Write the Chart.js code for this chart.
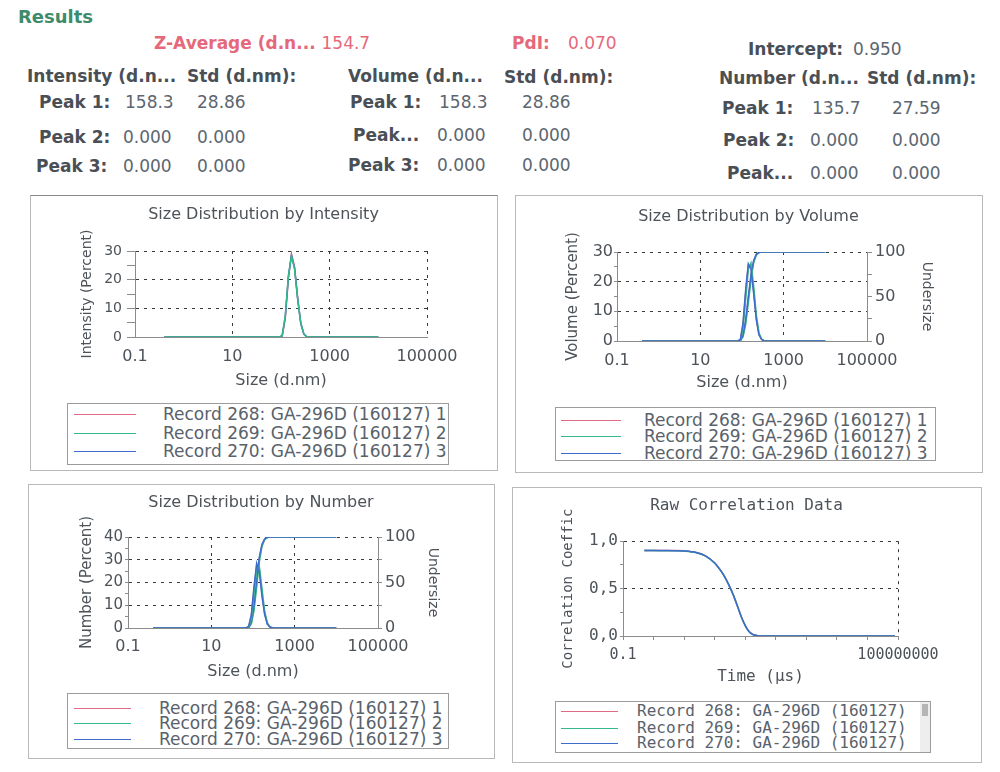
<!DOCTYPE html>
<html>
<head>
<meta charset="utf-8">
<script src="https://cdn.jsdelivr.net/npm/chart.js@4.4.1/dist/chart.umd.min.js"></script>
<style>
  body { margin: 0; width: 1000px; height: 772px; background: #fff; position: relative; overflow: hidden; font-family: "DejaVu Sans", sans-serif; }
  .t { position: absolute; white-space: nowrap; line-height: 20px; font-size: 17px; color: #5c6670; }
  .b { font-weight: bold; color: #4a4f56; }
  .red { color: #e6687b; }
  .n { font-weight: normal; }
  .box { position: absolute; box-sizing: border-box; border: 1px solid #b9b9b9; }
  .leg { position: absolute; box-sizing: border-box; border: 1px solid #9c9c9c; background: #fff; overflow: hidden; }
  .smp { position: absolute; height: 0; border-top: 1.5px solid; }
  .lt { position: absolute; white-space: nowrap; font-size: 17px; line-height: 18px; color: #59626b; }
  .mono { font-family: "DejaVu Sans Mono", monospace; font-size: 16px; }
  canvas { position: absolute; }
</style>
</head>
<body>

<span class="t b" style="left:18px;top:7px;font-size:18px;color:#3d8b6b">Results</span>

<span class="t b red" style="left:154px;top:33px">Z-Average (d.n... <span class="n">154.7</span></span>
<span class="t b red" style="left:512px;top:33px">PdI:</span>
<span class="t red" style="left:568px;top:33px">0.070</span>
<span class="t b" style="left:748px;top:39px">Intercept:</span>
<span class="t" style="left:853px;top:39px">0.950</span>

<span class="t b" style="left:27px;top:66px">Intensity (d.n...</span>
<span class="t b" style="left:187px;top:66px">Std (d.nm):</span>
<span class="t b" style="left:348px;top:66px">Volume (d.n...</span>
<span class="t b" style="left:504px;top:67px">Std (d.nm):</span>
<span class="t b" style="left:719px;top:68px">Number (d.n...</span>
<span class="t b" style="left:867px;top:68px">Std (d.nm):</span>

<span class="t b" style="left:39px;top:92px">Peak 1:</span>
<span class="t" style="left:125px;top:92px">158.3</span>
<span class="t" style="left:197px;top:92px">28.86</span>
<span class="t b" style="left:39px;top:127px">Peak 2:</span>
<span class="t" style="left:123px;top:127px">0.000</span>
<span class="t" style="left:197px;top:127px">0.000</span>
<span class="t b" style="left:36px;top:156px">Peak 3:</span>
<span class="t" style="left:123px;top:156px">0.000</span>
<span class="t" style="left:197px;top:156px">0.000</span>

<span class="t b" style="left:350px;top:92px">Peak 1:</span>
<span class="t" style="left:439px;top:92px">158.3</span>
<span class="t" style="left:522px;top:92px">28.86</span>
<span class="t b" style="left:353px;top:125px">Peak...</span>
<span class="t" style="left:437px;top:125px">0.000</span>
<span class="t" style="left:522px;top:125px">0.000</span>
<span class="t b" style="left:348px;top:155px">Peak 3:</span>
<span class="t" style="left:437px;top:155px">0.000</span>
<span class="t" style="left:522px;top:155px">0.000</span>

<span class="t b" style="left:722px;top:98px">Peak 1:</span>
<span class="t" style="left:812px;top:98px">135.7</span>
<span class="t" style="left:892px;top:98px">27.59</span>
<span class="t b" style="left:723px;top:130px">Peak 2:</span>
<span class="t" style="left:810px;top:130px">0.000</span>
<span class="t" style="left:892px;top:130px">0.000</span>
<span class="t b" style="left:727px;top:163px">Peak...</span>
<span class="t" style="left:810px;top:163px">0.000</span>
<span class="t" style="left:892px;top:163px">0.000</span>

<div class="box" style="left:30px;top:195px;width:468px;height:276px;border-top-color:#8a8a8a"></div>
<div class="box" style="left:515px;top:195px;width:468px;height:278px"></div>
<div class="box" style="left:28px;top:484px;width:467px;height:275px"></div>
<div class="box" style="left:512px;top:487px;width:470px;height:276px"></div>

<canvas id="cInt" width="465" height="205" style="left:31px;top:196px"></canvas>
<canvas id="cVol" width="465" height="208" style="left:516px;top:196px"></canvas>
<canvas id="cNum" width="464" height="205" style="left:29px;top:485px"></canvas>
<canvas id="cCorr" width="467" height="208" style="left:513px;top:488px"></canvas>

<div class="leg" id="lInt" style="left:67px;top:403px;width:382px;height:62px"></div>
<div class="leg" id="lVol" style="left:555px;top:407px;width:381px;height:54px"></div>
<div class="leg" id="lNum" style="left:67px;top:693px;width:382px;height:56px"></div>
<div class="leg" id="lCorr" style="left:555px;top:701px;width:376px;height:52px"></div>

<script>
// ---- data ----
const recordNames = ['Record 268: GA-296D (160127) 1', 'Record 269: GA-296D (160127) 2', 'Record 270: GA-296D (160127) 3'];
const corrNames = ['Record 268: GA-296D (160127)', 'Record 269: GA-296D (160127)', 'Record 270: GA-296D (160127)'];

const sizeTicks = [0.1, 10, 1000, 100000];
const sizeTickLabels = ['0.1', '10', '1000', '100000'];
const corrTicks = [0.1, 1, 10, 100, 1000, 10000, 100000, 1000000, 10000000, 100000000];
const corrTickLabels = ['0.1', '', '', '', '', '', '', '', '', '100000000'];

// intensity (%), size in d.nm
const intSizes = [0.4, 91.28, 105.7, 122.4, 141.8, 164.2, 190.1, 220.2, 255.0, 295.3, 342.0, 10000];
const int268 = [0, 0, 0.3, 6.5, 20.4, 28.9, 24.5, 13.6, 4.8, 0.9, 0, 0];
const int269 = [0, 0, 0.5, 7.4, 21.3, 28.2, 23.6, 13.1, 4.9, 1.0, 0, 0];
const int270 = [0, 0, 0.4, 7.0, 21.0, 28.6, 24.0, 13.3, 4.7, 1.0, 0, 0];

// volume (%) and undersize
const volSizes = [0.4, 78.82, 91.28, 105.7, 122.4, 141.8, 164.2, 190.1, 220.2, 255.0, 295.3, 342.0, 10000];
const vol268 = [0, 0, 0.4, 5.5, 16.2, 25.6, 25.0, 17.0, 7.6, 2.2, 0.5, 0, 0];
const vol269 = [0, 0, 0.3, 4.2, 14.0, 24.1, 26.3, 18.7, 8.9, 2.8, 0.7, 0, 0];
const vol270 = [0, 0, 0.5, 6.0, 17.3, 26.0, 24.3, 16.1, 7.2, 2.1, 0.5, 0, 0];
const volCum268 = [0, 0, 0.4, 5.9, 22.1, 47.7, 72.7, 89.7, 97.3, 99.5, 100, 100, 100];
const volCum269 = [0, 0, 0.3, 4.5, 18.5, 42.6, 68.9, 87.6, 96.5, 99.3, 100, 100, 100];
const volCum270 = [0, 0, 0.5, 6.5, 23.8, 49.8, 74.1, 90.2, 97.4, 99.5, 100, 100, 100];

// number (%) and undersize
const numSizes = [0.4, 68.06, 78.82, 91.28, 105.7, 122.4, 141.8, 164.2, 190.1, 220.2, 255.0, 295.3, 10000];
const num268 = [0, 0, 0.6, 5.1, 16.8, 27.4, 25.8, 15.2, 6.5, 2.0, 0.5, 0.1, 0];
const num269 = [0, 0, 0.4, 4.0, 14.6, 26.0, 27.3, 17.3, 7.5, 2.3, 0.5, 0.1, 0];
const num270 = [0, 0, 0.8, 6.0, 18.2, 28.4, 24.6, 14.0, 5.9, 1.7, 0.4, 0, 0];
const numCum268 = [0, 0, 0.6, 5.7, 22.5, 49.9, 75.7, 90.9, 97.4, 99.4, 99.9, 100, 100];
const numCum269 = [0, 0, 0.4, 4.4, 19.0, 45.0, 72.3, 89.6, 97.1, 99.4, 99.9, 100, 100];
const numCum270 = [0, 0, 0.8, 6.8, 25.0, 53.4, 78.0, 92.0, 97.9, 99.6, 100, 100, 100];

// raw correlation, time in µs
const corrTime = [0.5, 1, 2, 5, 10, 25, 50, 100, 150, 200, 280, 400, 550, 750, 1000, 1300, 1800, 2500, 4000, 10000, 100000, 1000000, 10000000, 80000000];
const corr268 = [0.903, 0.903, 0.902, 0.901, 0.898, 0.881, 0.846, 0.772, 0.702, 0.641, 0.552, 0.441, 0.322, 0.201, 0.112, 0.052, 0.016, 0.004, 0.001, 0, 0, 0, 0, 0];
const corr269 = [0.901, 0.901, 0.900, 0.899, 0.896, 0.879, 0.843, 0.768, 0.698, 0.637, 0.548, 0.437, 0.318, 0.198, 0.109, 0.050, 0.015, 0.004, 0.001, 0, 0, 0, 0, 0];
const corr270 = [0.902, 0.902, 0.901, 0.900, 0.897, 0.880, 0.845, 0.770, 0.700, 0.639, 0.550, 0.439, 0.320, 0.200, 0.110, 0.051, 0.015, 0.004, 0.001, 0, 0, 0, 0, 0];

// ---- styling helpers ----
const recColors = ['#e06a84', '#33b98a', '#3d6ccc'];
const txt = '#4d5359';
const gridDark = '#3a3a3a';
const axisGray = '#8c8c8c';
const none = 'rgba(0,0,0,0)';
const dotted = [3, 5];
const mono = '"DejaVu Sans Mono", monospace';

Chart.defaults.font.family = '"DejaVu Sans", sans-serif';
Chart.defaults.color = txt;

const pts = (xs, ys) => xs.map((x, i) => ({x: x, y: ys[i]}));

function line(label, xs, ys, color, order, axis, smooth) {
  return {
    label: label, data: pts(xs, ys), borderColor: color, backgroundColor: color,
    borderWidth: 1.5, pointRadius: 0, fill: false, order: order, yAxisID: axis || 'y',
    tension: 0, cubicInterpolationMode: smooth ? 'monotone' : 'default'
  };
}

function xSize(h, pad, pb) {
  return {
    type: 'logarithmic', min: 0.1, max: 100000,
    afterBuildTicks: s => { s.ticks = sizeTicks.map(v => ({value: v})); },
    afterFit: s => { s.height = h; },
    ticks: {autoSkip: false, maxRotation: 0, minRotation: 0, padding: pad, font: {size: 16}, color: txt,
      callback: (v, i) => sizeTickLabels[i]},
    grid: {color: c => c.index === 0 ? none : gridDark, tickLength: 6, tickColor: none},
    border: {color: axisGray, dash: dotted},
    title: {display: true, text: 'Size (d.nm)', font: {size: 16}, color: txt, padding: {top: 0, bottom: pb}}
  };
}

function yLeft(o) {
  return {
    position: 'left', min: 0, max: o.max,
    afterFit: s => { s.width = o.w; },
    ticks: {autoSkip: false, stepSize: o.step / 2, padding: o.pad, font: o.font, color: txt,
      callback: v => (v % o.step === 0 ? o.fmt(v) : '')},
    grid: {color: c => (c.tick.value > 0 && c.tick.value % o.step === 0) ? gridDark : none,
      tickLength: o.tl, tickColor: axisGray},
    border: {color: axisGray, dash: dotted},
    title: {display: true, text: o.title, font: o.tfont, color: txt, padding: {top: o.tpad, bottom: 0}}
  };
}

function yUnder(w, tl, pad, tpad) {
  return {
    position: 'right', min: 0, max: 100,
    afterFit: s => { s.width = w; },
    ticks: {autoSkip: false, stepSize: 25, padding: pad, font: {size: 16}, color: txt,
      callback: v => (v % 50 === 0 ? String(v) : '')},
    grid: {drawOnChartArea: false, tickLength: tl, tickColor: axisGray},
    border: {color: axisGray},
    title: {display: true, text: 'Undersize', font: {size: 14}, color: txt, padding: {top: tpad, bottom: 0}}
  };
}

function padRight(w) {
  return {position: 'right', min: 0, max: 1, afterFit: s => { s.width = w; },
    ticks: {display: false}, grid: {display: false}, border: {display: false}};
}

function baseOptions(title, scales) {
  return {
    responsive: false, animation: false, devicePixelRatio: 1,
    layout: {padding: 0},
    plugins: {legend: {display: false}, tooltip: {enabled: false}, title: title},
    scales: scales
  };
}

const num1 = v => String(v);

// ---- Size Distribution by Intensity ----
new Chart(document.getElementById('cInt'), {
  type: 'line',
  data: {datasets: [
    line(recordNames[0], intSizes, int268, recColors[0], 2),
    line(recordNames[1], intSizes, int269, recColors[1], 0),
    line(recordNames[2], intSizes, int270, recColors[2], 1)
  ]},
  options: baseOptions(
    {display: true, text: 'Size Distribution by Intensity', color: txt, font: {size: 16, weight: 'normal'}, padding: {top: 9.4, bottom: 26.4}},
    {
      x: xSize(64, 4.4, 10.4),
      y: yLeft({max: 30, step: 10, w: 104, tl: 8, pad: 5, font: {size: 14}, fmt: num1, title: 'Intensity (Percent)', tfont: {size: 14}, tpad: 47.6}),
      pad: padRight(69)
    })
});

// ---- Size Distribution by Volume ----
new Chart(document.getElementById('cVol'), {
  type: 'line',
  data: {datasets: [
    line(recordNames[0], volSizes, vol268, recColors[0], 2),
    line(recordNames[1], volSizes, vol269, recColors[1], 1),
    line(recordNames[2], volSizes, vol270, recColors[2], 0),
    line(recordNames[0], volSizes, volCum268, recColors[0], 5, 'y2'),
    line(recordNames[1], volSizes, volCum269, recColors[1], 4, 'y2'),
    line(recordNames[2], volSizes, volCum270, recColors[2], 3, 'y2')
  ]},
  options: baseOptions(
    {display: true, text: 'Size Distribution by Volume', color: txt, font: {size: 16, weight: 'normal'}, padding: {top: 11.4, bottom: 25.4}},
    {
      x: xSize(63, 4.4, 11.4),
      y: yLeft({max: 30, step: 10, w: 101, tl: 3, pad: 1, font: {size: 16}, fmt: num1, title: 'Volume (Percent)', tfont: {size: 15}, tpad: 48}),
      y2: yUnder(114, 5, 3, 45.6)
    })
});

// ---- Size Distribution by Number ----
new Chart(document.getElementById('cNum'), {
  type: 'line',
  data: {datasets: [
    line(recordNames[0], numSizes, num268, recColors[0], 2),
    line(recordNames[1], numSizes, num269, recColors[1], 1),
    line(recordNames[2], numSizes, num270, recColors[2], 0),
    line(recordNames[0], numSizes, numCum268, recColors[0], 5, 'y2'),
    line(recordNames[1], numSizes, numCum269, recColors[1], 4, 'y2'),
    line(recordNames[2], numSizes, numCum270, recColors[2], 3, 'y2')
  ]},
  options: baseOptions(
    {display: true, text: 'Size Distribution by Number', color: txt, font: {size: 16, weight: 'normal'}, padding: {top: 8.4, bottom: 24.4}},
    {
      x: xSize(62, 3.4, 8.4),
      y: yLeft({max: 40, step: 10, w: 99, tl: 3, pad: 2, font: {size: 15}, fmt: num1, title: 'Number (Percent)', tfont: {size: 15}, tpad: 49}),
      y2: yUnder(115, 4, 3, 51.6)
    })
});

// ---- Raw Correlation Data ----
new Chart(document.getElementById('cCorr'), {
  type: 'line',
  data: {datasets: [
    line(corrNames[0], corrTime, corr268, recColors[0], 2, 'y', true),
    line(corrNames[1], corrTime, corr269, recColors[1], 1, 'y', true),
    line(corrNames[2], corrTime, corr270, recColors[2], 0, 'y', true)
  ]},
  options: baseOptions(
    {display: true, text: 'Raw Correlation Data', color: txt, font: {family: mono, size: 16, weight: 'normal'}, padding: {top: 8, bottom: 26}},
    {
      x: {
        type: 'logarithmic', min: 0.1, max: 100000000,
        afterBuildTicks: s => { s.ticks = corrTicks.map(v => ({value: v})); },
        afterFit: s => { s.height = 60; },
        ticks: {autoSkip: false, maxRotation: 0, minRotation: 0, padding: 6, font: {family: mono, size: 15}, color: txt,
          callback: (v, i) => corrTickLabels[i]},
        grid: {color: c => c.index === corrTicks.length - 1 ? gridDark : none, tickLength: 4, tickColor: axisGray},
        border: {color: axisGray, dash: dotted},
        title: {display: true, text: 'Time (µs)', font: {family: mono, size: 16}, color: txt, padding: {top: 0, bottom: 10}}
      },
      y: yLeft({max: 1, step: 0.5, w: 110, tl: 3, pad: 2, font: {family: mono, size: 16},
        fmt: v => v.toFixed(1).replace('.', ','), title: 'Correlation Coeffic', tfont: {family: mono, size: 14}, tpad: 46.6}),
      pad: padRight(82)
    })
});

// ---- boxed legends ----
function legend(id, names, l0, l1, tx, rows, isMono) {
  const el = document.getElementById(id);
  names.forEach((n, i) => {
    const y = rows[i];
    el.insertAdjacentHTML('beforeend',
      '<div class="smp" style="left:' + l0 + 'px;width:' + (l1 - l0) + 'px;top:' + y + 'px;border-top-color:' + recColors[i] + '"></div>' +
      '<div class="lt' + (isMono ? ' mono' : '') + '" style="left:' + tx + 'px;top:' + (y - 9) + 'px">' + n + '</div>');
  });
}
legend('lInt', recordNames, 6, 68, 95, [10, 29, 47]);
legend('lVol', recordNames, 5, 65, 88, [12, 28, 45]);
legend('lNum', recordNames, 6, 63, 91, [14, 29, 45]);
legend('lCorr', corrNames, 5, 62, 81, [9, 26, 41], true);
document.getElementById('lCorr').insertAdjacentHTML('beforeend',
  '<div style="position:absolute;left:364px;top:0;width:10px;height:50px;background:#eeeeee"></div>' +
  '<div style="position:absolute;left:366px;top:2px;width:6px;height:12px;background:#b5b5b5"></div>');
</script>
</body>
</html>
